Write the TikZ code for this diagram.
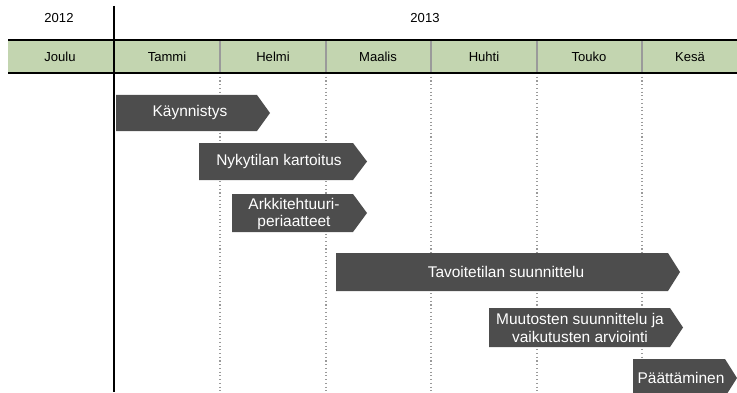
\documentclass[tikz,border=0pt]{standalone}
\usepackage{fontspec}
\setmainfont{Liberation Sans}
\definecolor{vihrea}{HTML}{C3D5B0}
\definecolor{palkki}{HTML}{4D4D4D}
\definecolor{erotin}{HTML}{9A9A9A}
\begin{document}
\begin{tikzpicture}[x=0.75pt,y=-0.75pt,
	otsikko/.style={font=\fontsize{9.8}{12}\selectfont},
	vaihe/.style={fill=palkki},
	vaiheteksti/.style={text=white,align=center,inner sep=0pt,font=\fontsize{11.6}{13.2}\selectfont}]
	\useasboundingbox (0,0) rectangle (737,392);
	% kuukausinauha
	\fill[vihrea] (8,41) rectangle (737,72);
	\draw[erotin,line width=1.1pt] (220,41) -- (220,72);
	\draw[erotin,line width=1.1pt] (326,41) -- (326,72);
	\draw[erotin,line width=1.1pt] (431,41) -- (431,72);
	\draw[erotin,line width=1.1pt] (537,41) -- (537,72);
	\draw[erotin,line width=1.1pt] (642,41) -- (642,72);
	\draw[erotin,dotted,line width=0.8pt] (220,73) -- (220,392);
	\draw[erotin,dotted,line width=0.8pt] (326,73) -- (326,392);
	\draw[erotin,dotted,line width=0.8pt] (431,73) -- (431,392);
	\draw[erotin,dotted,line width=0.8pt] (537,73) -- (537,392);
	\draw[erotin,dotted,line width=0.8pt] (642,73) -- (642,392);
	\draw[line width=1.6pt] (8,40) -- (737,40);
	\draw[line width=1.6pt] (8,73) -- (737,73);
	\draw[line width=1.6pt] (114,6) -- (114,392);
	% vuodet ja kuukaudet
	\node[otsikko] (v2012) at (59,18) {2012};
	\node[otsikko] (v2013) at (425,18) {2013};
	\node[otsikko] (joulu) at (60,57) {Joulu};
	\node[otsikko] (tammi) at (167,57) {Tammi};
	\node[otsikko] (helmi) at (273,57) {Helmi};
	\node[otsikko] (maalis) at (378,57) {Maalis};
	\node[otsikko] (huhti) at (484,57) {Huhti};
	\node[otsikko] (touko) at (589,57) {Touko};
	\node[otsikko] (kesa) at (690,57) {Kesä};
	% vaiheet
	\fill[vaihe] (116,95) -- (257,95) -- (270,113) -- (257,131) -- (116,131) -- cycle;
	\node[vaiheteksti] (kaynnistys) at (190,113) {Käynnistys};
	\fill[vaihe] (199,143) -- (353,143) -- (367,161.5) -- (353,180) -- (199,180) -- cycle;
	\node[vaiheteksti] (nykytila) at (279,161.5) {Nykytilan kartoitus};
	\fill[vaihe] (232,194) -- (353,194) -- (367,213) -- (353,232) -- (232,232) -- cycle;
	\node[vaiheteksti] (arkkitehtuuri) at (294,214) {Arkkitehtuuri-\\periaatteet};
	\fill[vaihe] (336,253) -- (668,253) -- (680,272) -- (668,291) -- (336,291) -- cycle;
	\node[vaiheteksti] (tavoitetila) at (506,272) {Tavoitetilan suunnittelu};
	\fill[vaihe] (489,308) -- (670,308) -- (683,327.5) -- (670,347) -- (489,347) -- cycle;
	\node[vaiheteksti] (muutokset) at (580,328) {Muutosten suunnittelu ja\\vaikutusten arviointi};
	\fill[vaihe] (633,359) -- (725,359) -- (737,378) -- (725,397) -- (633,397) -- cycle;
	\node[vaiheteksti] (paattaminen) at (681,378) {Päättäminen};
\end{tikzpicture}
\end{document}
